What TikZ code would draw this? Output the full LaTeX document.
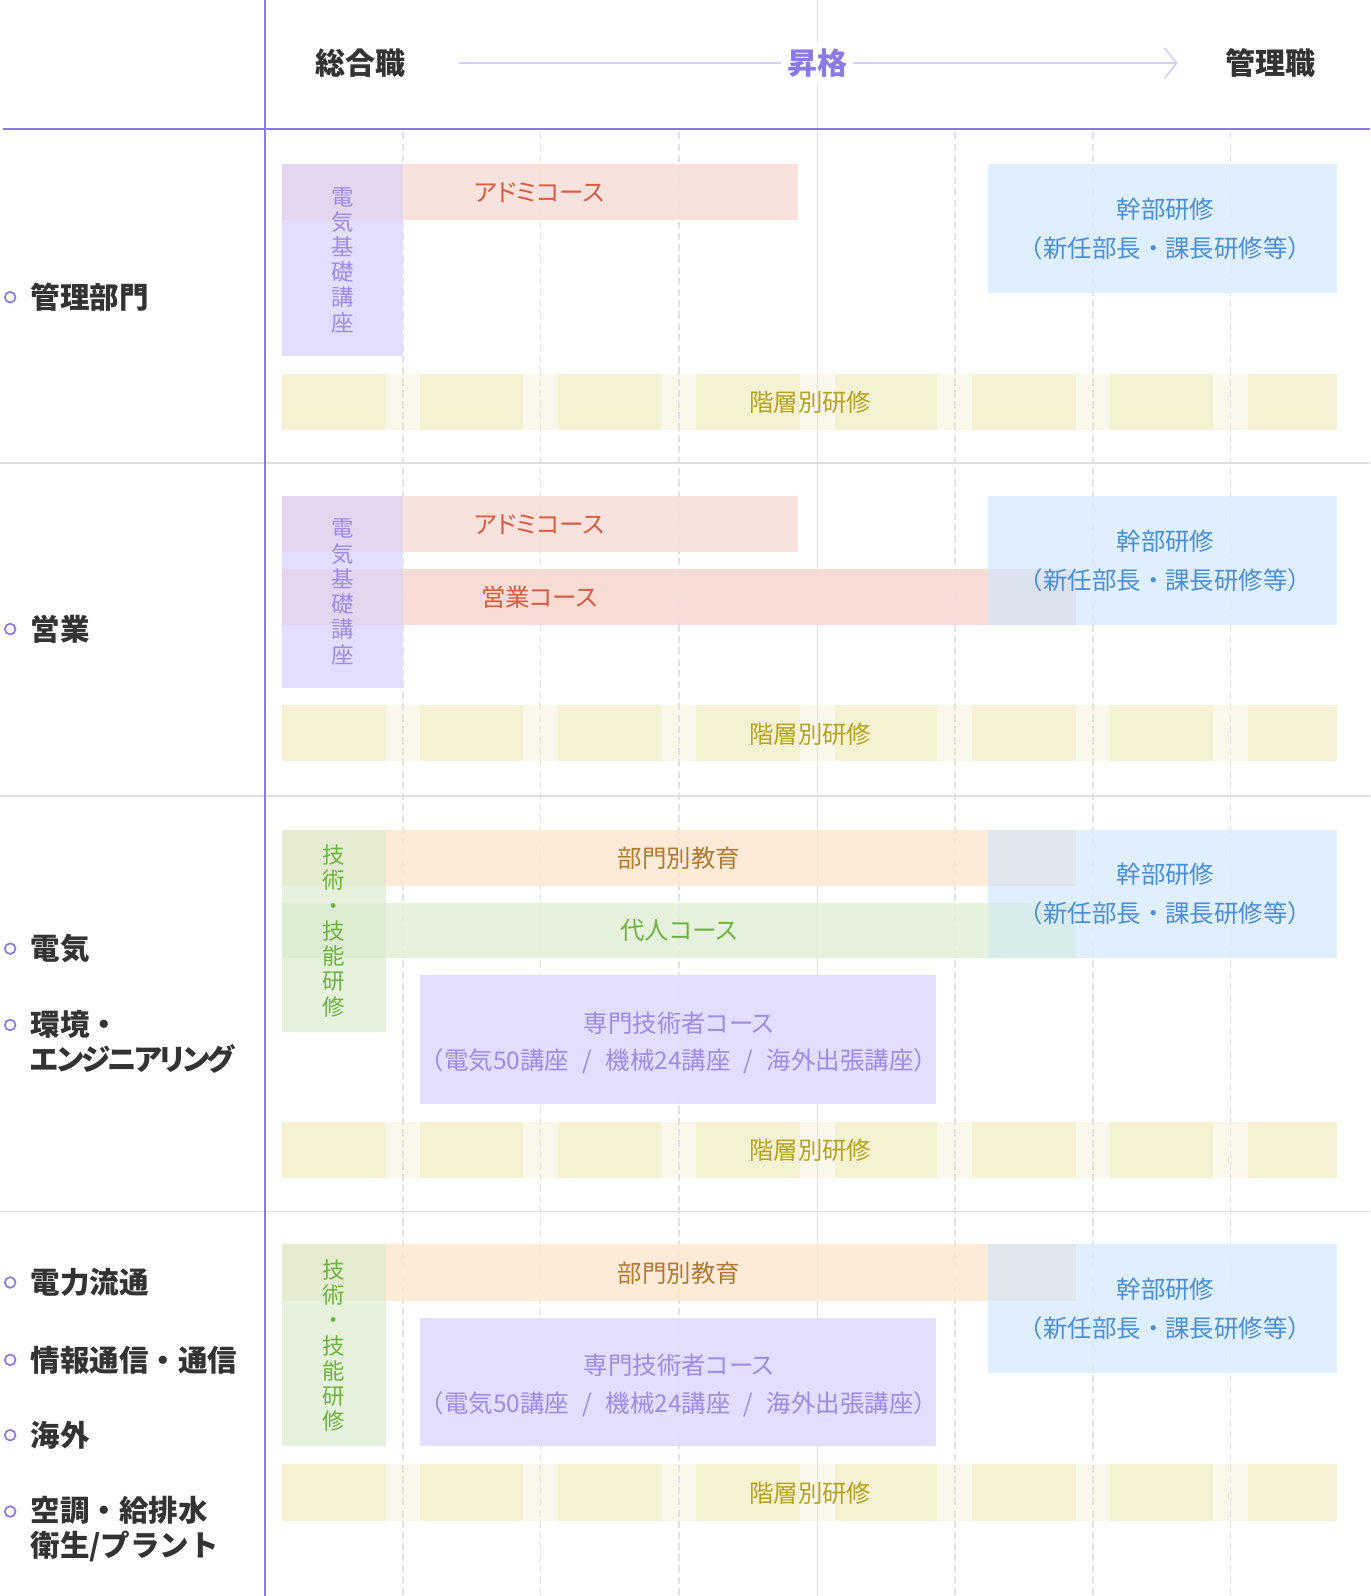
\documentclass[tikz,border=0pt]{standalone}
\usepackage{fontspec}
\setmainfont{Noto Sans CJK JP}
\newfontfamily\paltfont{Noto Sans CJK JP}[RawFeature=+palt]
\newfontfamily\paltnarrow{Noto Sans CJK JP}[RawFeature=+palt, LetterSpace=-8]
\newcommand\pk[1]{{\paltfont #1}}
\usetikzlibrary{arrows.meta}
\definecolor{cPur}{HTML}{E3DEFD}
\definecolor{cPink}{HTML}{F8E2DE}
\definecolor{cPinkB}{HTML}{F7DCD6}
\definecolor{cBlue}{HTML}{DFEFFD}
\definecolor{cPeach}{HTML}{FDEBD8}
\definecolor{cGreen}{HTML}{E7F2DD}
\definecolor{cYel}{HTML}{F5F1D3}
\definecolor{cYelL}{HTML}{FAF8EB}
\definecolor{cMix}{HTML}{E3D6EE}
\definecolor{cPinkBlue}{HTML}{DCE2EE}
\definecolor{cGreenPeach}{HTML}{E6ECD1}
\definecolor{cGreenGreen}{HTML}{DDEDD3}
\definecolor{cPeachBlue}{HTML}{DFE6EE}
\definecolor{cGreenBlue}{HTML}{D8ECEC}
\definecolor{tPur}{HTML}{9D8BE8}
\definecolor{tRed}{HTML}{D95A3E}
\definecolor{tBlue}{HTML}{4A8ED6}
\definecolor{tBrown}{HTML}{B07A33}
\definecolor{tGreen}{HTML}{6DB33F}
\definecolor{tOlive}{HTML}{B5A21F}
\definecolor{tDark}{HTML}{333333}
\definecolor{cAxis}{HTML}{8B7AE6}
\definecolor{cSep}{HTML}{DEDEDE}
\definecolor{cGrid}{HTML}{E2E2E2}
\definecolor{cArrow}{HTML}{D5CDFA}
\newcommand\rb[6]{\node[rbox, fill=#2, minimum width={#5-#3}, minimum height={#6-#4}] (#1) at (#3,#4) {};}
\newcommand\layerbar[3]{%
  \rb{#1}{cYel}{277}{#2}{1314}{#3}
  \foreach \gx in {396,531,667,803,938,1074,1209}{\fill[cYelL] (\gx-17,#2) rectangle (\gx+17,#3);}
}
\newcommand\gridlines[1]{%
  \begin{scope}[opacity=#1]
  \foreach \gx in {396,531,667,938,1074,1209}{\draw[gridl, dash pattern=on 7pt off 4pt] (\gx,130) -- (\gx,1568);}
  \draw[gridl] (803,0) -- (803,1568);
  \end{scope}
}
\newcommand\slsep{\hspace{0.55em}/\hspace{0.55em}}
\begin{document}
\begin{tikzpicture}[x=1pt,y=-1pt,
  every node/.style={inner sep=0pt, outer sep=0pt},
  rbox/.style={rectangle, draw=none, anchor=north west},
  gridl/.style={cGrid, line width=1.5pt},
  lbl/.style={font=\fontsize{29}{34.5}\selectfont\bfseries, text=tDark, anchor=west, align=left},
  hdr/.style={font=\fontsize{29.5}{34}\selectfont\bfseries, text=tDark},
  btx/.style={font=\fontsize{24}{28}\selectfont},
  vtx/.style={font=\fontsize{22}{24.8}\selectfont, align=center},
  bullet/.style={circle, draw=cAxis, line width=1.7pt, minimum size=10.5pt},
]
\useasboundingbox (0,0) rectangle (1346,1568);
\fill[white] (0,0) rectangle (1346,1568);

% layer bars
\layerbar{bar1}{367}{422}
\layerbar{bar2}{693}{748}
\layerbar{bar3}{1102}{1157}
\layerbar{bar4}{1438}{1494}

\gridlines{1}

% section 1
\rb{s1a}{cPink}{277}{161}{784}{216}
\rb{s1k}{cPur}{277}{161}{396}{350}
\rb{s1x}{cMix}{277}{161}{396}{216}
\rb{s1m}{cBlue}{971}{161}{1314}{288}
% section 2
\rb{s2a}{cPink}{277}{487}{784}{542}
\rb{s2e}{cPinkB}{277}{559}{1057}{614}
\rb{s2k}{cPur}{277}{542}{396}{559}
\rb{s2k1}{cPur}{277}{614}{396}{676}
\rb{s2x1}{cMix}{277}{487}{396}{542}
\rb{s2x2}{cMix}{277}{559}{396}{614}
\rb{s2m}{cBlue}{971}{487}{1314}{614}
\rb{s2x3}{cPinkBlue}{971}{559}{1057}{614}
% section 3
\rb{s3b}{cPeach}{277}{815}{1057}{870}
\rb{s3d}{cGreen}{277}{887}{1057}{941}
\rb{s3g}{cGreen}{277}{870}{379}{887}
\rb{s3g1}{cGreen}{277}{941}{379}{1014}
\rb{s3x1}{cGreenPeach}{277}{815}{379}{870}
\rb{s3x2}{cGreenGreen}{277}{887}{379}{941}
\rb{s3m}{cBlue}{971}{815}{1314}{941}
\rb{s3x3}{cPeachBlue}{971}{815}{1057}{870}
\rb{s3x4}{cGreenBlue}{971}{887}{1057}{941}
\rb{s3s}{cPur}{413}{958}{920}{1085}
% section 4
\rb{s4b}{cPeach}{277}{1222}{1057}{1278}
\rb{s4g}{cGreen}{277}{1278}{379}{1421}
\rb{s4x1}{cGreenPeach}{277}{1222}{379}{1278}
\rb{s4m}{cBlue}{971}{1222}{1314}{1349}
\rb{s4x2}{cPeachBlue}{971}{1222}{1057}{1278}
\rb{s4s}{cPur}{413}{1295}{920}{1421}

\gridlines{0.3}

% texts section 1
\node[vtx, text=tPur] (v1) at (336.5,255.5) {電\\気\\基\\礎\\講\\座};
\node[btx, text=tRed] (t1a) at (530,189) {\pk{アドミコース}};
\node[btx, text=tBlue] (t1m) at (1145,206) {幹部研修};
\node[btx, text=tBlue] (t1n) at (1145,244) {（新任部長・課長研修等）};
\node[btx, text=tOlive] (t1l) at (796,395) {階層別研修};
% texts section 2
\node[vtx, text=tPur] (v2) at (336.5,581.5) {電\\気\\基\\礎\\講\\座};
\node[btx, text=tRed] (t2a) at (530,515) {\pk{アドミコース}};
\node[btx, text=tRed] (t2e) at (530,587) {営業\pk{コース}};
\node[btx, text=tBlue] (t2m) at (1145,532) {幹部研修};
\node[btx, text=tBlue] (t2n) at (1145,570) {（新任部長・課長研修等）};
\node[btx, text=tOlive] (t2l) at (796,721) {階層別研修};
% texts section 3
\node[vtx, text=tGreen] (v3) at (328,914.5) {技\\術\\・\\技\\能\\研\\修};
\node[btx, text=tBrown] (t3b) at (667,843) {部門別教育};
\node[btx, text=tGreen] (t3d) at (667,914) {代人\pk{コース}};
\node[btx, text=tBlue] (t3m) at (1145,859) {幹部研修};
\node[btx, text=tBlue] (t3n) at (1145,897) {（新任部長・課長研修等）};
\node[btx, text=tPur] (t3s) at (667,1005) {専門技術者\pk{コース}};
\node[btx, text=tPur] (t3t) at (667,1043) {（電気50講座\slsep 機械24講座\slsep 海外出張講座）};
\node[btx, text=tOlive] (t3l) at (796,1130) {階層別研修};
% texts section 4
\node[vtx, text=tGreen] (v4) at (328,1322) {技\\術\\・\\技\\能\\研\\修};
\node[btx, text=tBrown] (t4b) at (667,1251) {部門別教育};
\node[btx, text=tBlue] (t4m) at (1145,1267) {幹部研修};
\node[btx, text=tBlue] (t4n) at (1145,1305) {（新任部長・課長研修等）};
\node[btx, text=tPur] (t4s) at (667,1341) {専門技術者\pk{コース}};
\node[btx, text=tPur] (t4t) at (667,1380) {（電気50講座\slsep 機械24講座\slsep 海外出張講座）};
\node[btx, text=tOlive] (t4l) at (796,1467) {階層別研修};

% separators and axes
\foreach \sy in {455,782,1190}{\draw[cSep, line width=1.3pt] (0,\sy) -- (1346,\sy);}
\draw[cAxis, line width=2pt] (3,127) -- (1346,127);
\draw[cAxis, line width=2pt] (260,0) -- (260,1568);

% header
\coordinate (arS) at (451,62);
\coordinate (arE) at (1157,62);
\draw[cArrow, line width=1.6pt, -{Straight Barb[length=12pt,width=30pt,line width=1.6pt]}] (arS) -- (arE);
\node[hdr] (h1) at (354,62) {総合職};
\node[hdr] (h3) at (1248,62) {管理職};
\node[hdr, text=cAxis, fill=white, inner sep=6pt] (h2) at (803,62) {昇格};

% left labels
\node[bullet] (b1) at (10,292) {};
\node[lbl] (l1) at (30,292) {管理部門};
\node[bullet] (b2) at (10,618) {};
\node[lbl] (l2) at (30,618) {営業};
\node[bullet] (b3) at (10,932) {};
\node[lbl] (l3) at (30,932) {電気};
\node[bullet] (b4) at (10,1007) {};
\node[lbl] (l4) at (30,1024) {環境・\\{\paltnarrow エンジニアリング}};
\node[bullet] (b5) at (10,1260) {};
\node[lbl] (l5) at (30,1260) {電力流通};
\node[bullet] (b6) at (10,1336) {};
\node[lbl] (l6) at (30,1336) {情報通信・通信};
\node[bullet] (b7) at (10,1410) {};
\node[lbl] (l7) at (30,1410) {海外};
\node[bullet] (b8) at (10,1485) {};
\node[lbl] (l8) at (30,1502.5) {空調・給排水\\衛生/プラント};
\end{tikzpicture}
\end{document}
